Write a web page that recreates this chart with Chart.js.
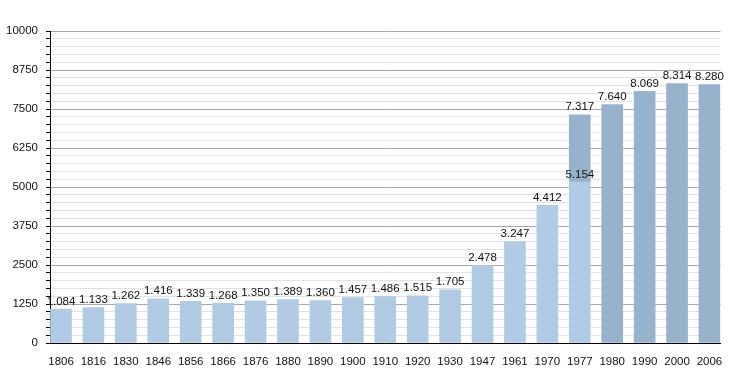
<!DOCTYPE html>
<html>
<head>
<meta charset="utf-8">
<script src="https://cdn.jsdelivr.net/npm/chart.js@4/dist/chart.umd.min.js"></script>
<style>
  html, body { margin: 0; padding: 0; background: #fff; }
  #wrap { width: 750px; height: 373px; }
</style>
</head>
<body>
<div id="wrap"><canvas id="popChart" width="750" height="373"></canvas></div>
<script>
// Census years and population counts
const years = ['1806', '1816', '1830', '1846', '1856', '1866', '1876', '1880', '1890', '1900', '1910',
  '1920', '1930', '1947', '1961', '1970', '1977', '1980', '1990', '2000', '2006'];
// light bars (old territory) - 1977 has both figures
const before = [1084, 1133, 1262, 1416, 1339, 1268, 1350, 1389, 1360, 1457, 1486,
  1515, 1705, 2478, 3247, 4412, 5154, null, null, null, null];
// dark bars (after merger)
const after = [null, null, null, null, null, null, null, null, null, null, null,
  null, null, null, null, null, 7317, 7640, 8069, 8314, 8280];

const yTicks = { min: 0, max: 10000, minor: 250, major: 1250 };

function fmt(v) {
  return String(v).replace(/\B(?=(\d{3})+(?!\d))/g, '.');
}

const lightData = before.map((v, i) => v == null ? null : { x: i, y: v });
const darkData = after.map((v, i) => v == null ? null : { x: i, y: v - (before[i] || 0) });

const FONT = 'Liberation Sans, Arial, Helvetica, sans-serif';

// value labels above the bars
const labelPlugin = {
  id: 'valueLabels',
  afterDatasetsDraw(chart) {
    const ctx = chart.ctx;
    ctx.save();
    ctx.font = '11.5px ' + FONT;
    ctx.fillStyle = '#111';
    ctx.textAlign = 'center';
    ctx.textBaseline = 'bottom';
    const yScale = chart.scales.y;
    const xScale = chart.scales.x;
    years.forEach((yr, i) => {
      const x = xScale.getPixelForValue(i);
      if (before[i] != null) {
        ctx.fillText(fmt(before[i]), x, yScale.getPixelForValue(before[i]) - 2);
      }
      if (after[i] != null) {
        ctx.fillText(fmt(after[i]), x, yScale.getPixelForValue(after[i]) - 2);
      }
    });
    ctx.restore();
  }
};

const ctx = document.getElementById('popChart').getContext('2d');
const popChart = new Chart(ctx, {
  type: 'bar',
  data: {
    datasets: [
      {
        label: 'before',
        data: lightData.filter(d => d),
        backgroundColor: '#b1cbe5',
        barThickness: 21,
        stack: 's'
      },
      {
        label: 'after',
        data: darkData.filter(d => d),
        backgroundColor: '#98b2cc',
        barThickness: 21,
        stack: 's'
      }
    ]
  },
  options: {
    responsive: false,
    animation: false,
    layout: { padding: { top: 31, right: 29.5, left: 0, bottom: 0 } },
    plugins: {
      legend: { display: false },
      tooltip: { enabled: false }
    },
    scales: {
      x: {
        type: 'linear',
        stacked: true,
        offset: false,
        min: -0.34,
        max: years.length - 1 + 0.34,
        afterFit: (s) => { s.height = 30; },
        afterBuildTicks: (s) => { s.ticks = years.map((_, i) => ({ value: i })); },
        grid: { display: false, offset: false },
        border: { display: true, color: '#000', width: 1 },
        ticks: {
          autoSkip: false,
          maxRotation: 0,
          padding: 4,
          color: '#111',
          font: { family: FONT, size: 11.5 },
          callback: (v) => years[v] || ''
        }
      },
      y: {
        stacked: true,
        min: yTicks.min,
        max: yTicks.max,
        afterFit: (s) => { s.width = 50; },
        border: { display: true, color: '#000', width: 1 },
        grid: {
          color: (c) => c.tick && c.tick.value % yTicks.major === 0 ? '#a8a8a8' : '#e2e2e2',
          tickColor: '#000',
          tickLength: 4
        },
        ticks: {
          stepSize: yTicks.minor,
          autoSkip: false,
          padding: 8,
          color: '#111',
          font: { family: FONT, size: 11.5 },
          callback: (v) => v % yTicks.major === 0 ? v : ''
        }
      }
    }
  },
  plugins: [labelPlugin]
});
</script>
</body>
</html>
